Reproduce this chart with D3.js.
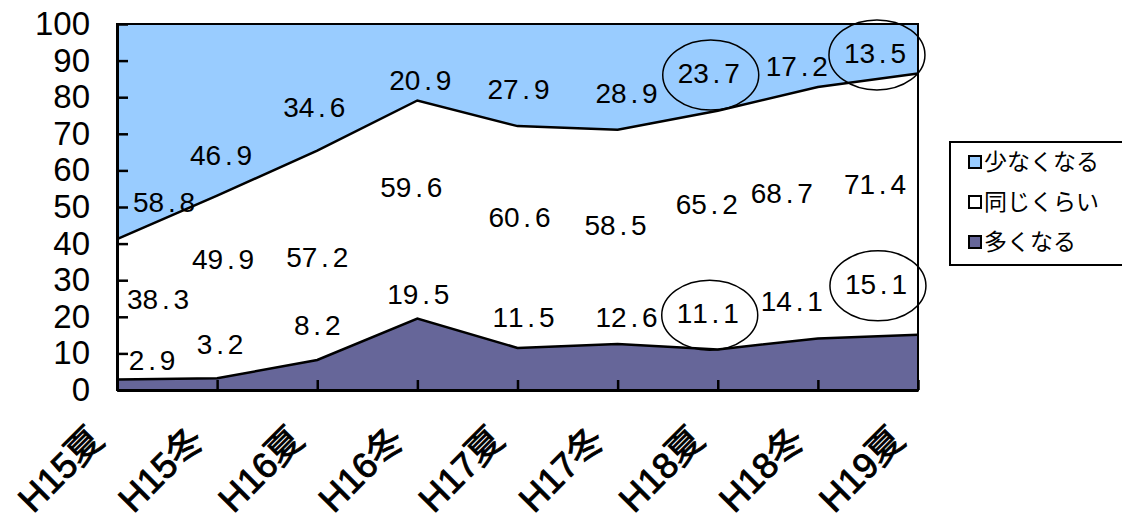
<!DOCTYPE html>
<html>
<head>
<meta charset="utf-8">
<script src="https://cdn.jsdelivr.net/npm/d3@7"></script>
<style>
body { margin: 0; background: #fff; }
</style>
</head>
<body>
<script>
// categories and values
var categories = ["H15夏", "H15冬", "H16夏", "H16冬", "H17夏", "H17冬", "H18夏", "H18冬", "H19夏"];
var seriesNames = ["多くなる", "同じくらい", "少なくなる"];
var more = [2.9, 3.2, 8.2, 19.5, 11.5, 12.6, 11.1, 14.1, 15.1];
var same = [38.3, 49.9, 57.2, 59.6, 60.6, 58.5, 65.2, 68.7, 71.4];
var less = [58.8, 46.9, 34.6, 20.9, 27.9, 28.9, 23.7, 17.2, 13.5];
var yTicks = [0, 10, 20, 30, 40, 50, 60, 70, 80, 90, 100];
var colors = ["#666699", "#ffffff", "#99ccff"];

// hand placed data labels (category index, value)
var moreLabelX = [0.35, 1.03, 2.0, 3.01, 4.06, 5.09, 5.9, 6.74, 7.58];
var moreLabelY = [8.2, 12.6, 17.8, 26.2, 19.9, 19.9, 21.0, 24.3, 29.0];
var sameLabelX = [0.41, 1.06, 2.0, 2.94, 4.02, 4.98, 5.89, 6.64, 7.57];
var sameLabelY = [24.9, 35.8, 36.3, 55.5, 47.3, 45.1, 50.8, 53.8, 56.3];
var lessLabelX = [0.47, 1.04, 1.97, 3.03, 4.01, 5.09, 5.91, 6.79, 7.57];
var lessLabelY = [51.4, 64.2, 77.3, 84.7, 82.2, 81.1, 86.6, 88.5, 92.1];
// circled labels: [series, category index]
var circled = [[2, 6], [2, 8], [0, 6], [0, 8]];

var width = 1122, height = 521;
var plotLeft = 117, plotRight = 918, plotTop = 24, plotBottom = 390;

var svg = d3.select("body").append("svg")
	.attr("width", width)
	.attr("height", height);

var x = d3.scalePoint().domain(categories).range([plotLeft, plotRight]);
var xi = d3.scaleLinear().domain([0, categories.length - 1]).range([plotLeft, plotRight]);
var y = d3.scaleLinear().domain([0, 100]).range([plotBottom, plotTop]);

var rows = categories.map(function(c, i) {
	return {cat: c, "多くなる": more[i], "同じくらい": same[i], "少なくなる": less[i]};
});
var stacked = d3.stack().keys(seriesNames)(rows);

var area = d3.area()
	.x(function(d) { return x(d.data.cat); })
	.y0(function(d) { return y(d[0]); })
	.y1(function(d) { return y(d[1]); });

svg.selectAll(".band")
	.data(stacked)
	.enter().append("path")
	.attr("class", "band")
	.attr("d", area)
	.attr("fill", function(d, i) { return colors[i]; });

// boundary lines between bands
var line = d3.line()
	.x(function(d) { return x(d.data.cat); })
	.y(function(d) { return y(d[1]); });

svg.selectAll(".edge")
	.data(stacked.slice(0, 2))
	.enter().append("path")
	.attr("class", "edge")
	.attr("d", line)
	.attr("fill", "none")
	.attr("stroke", "black")
	.attr("stroke-width", 2.5);

// plot frame
svg.append("rect")
	.attr("x", plotLeft)
	.attr("y", plotTop)
	.attr("width", plotRight - plotLeft)
	.attr("height", plotBottom - plotTop)
	.attr("fill", "none")
	.attr("stroke", "black")
	.attr("stroke-width", 2);

// y axis with inward ticks
var yAxis = svg.append("g")
	.attr("transform", "translate(" + plotLeft + ",0)")
	.call(d3.axisLeft(y).tickValues(yTicks).tickSizeInner(-11).tickSizeOuter(0).tickPadding(27));
yAxis.select(".domain").attr("stroke-width", 3);
yAxis.selectAll(".tick line").attr("stroke-width", 2.5);
yAxis.selectAll(".tick text")
	.attr("font-family", "'Liberation Sans', Arial, sans-serif")
	.attr("font-size", 33)
	.attr("fill", "black");

// x axis with inward ticks and rotated labels
var xAxis = svg.append("g")
	.attr("transform", "translate(0," + plotBottom + ")")
	.call(d3.axisBottom(x).tickSizeInner(-10).tickSizeOuter(0));
xAxis.select(".domain").attr("stroke-width", 3);
xAxis.selectAll(".tick line").attr("stroke-width", 2.5);
xAxis.selectAll(".tick text")
	.attr("font-family", "'Liberation Sans', 'Noto Sans CJK JP', sans-serif")
	.attr("font-size", 36)
	.attr("fill", "black")
	.attr("stroke", "black")
	.attr("stroke-width", 0.9)
	.attr("text-anchor", "end")
	.attr("dy", null)
	.attr("y", 0)
	.attr("transform", "translate(-12,52) rotate(-45)");

// data labels, each digit in its own fixed cell
var labelSets = [
	{values: more, lx: moreLabelX, ly: moreLabelY},
	{values: same, lx: sameLabelX, ly: sameLabelY},
	{values: less, lx: lessLabelX, ly: lessLabelY}
];
var cell = 15.5;

labelSets.forEach(function(set, s) {
	set.values.forEach(function(v, i) {
		var txt = v.toFixed(1).split("");
		var g = svg.append("g")
			.attr("transform", "translate(" + xi(set.lx[i]) + "," + y(set.ly[i]) + ")");
		g.selectAll("text")
			.data(txt)
			.enter().append("text")
			.attr("x", function(c, k) { return (k - (txt.length - 1) / 2) * cell; })
			.attr("y", 0)
			.attr("dy", "0.36em")
			.attr("text-anchor", "middle")
			.attr("font-family", "'Liberation Sans', Arial, sans-serif")
			.attr("font-size", 28)
			.attr("fill", "black")
			.text(function(c) { return c; });
	});
});

// ellipses round the highlighted labels
svg.selectAll(".ring")
	.data(circled)
	.enter().append("ellipse")
	.attr("class", "ring")
	.attr("cx", function(d) { return xi(labelSets[d[0]].lx[d[1]]) + 2; })
	.attr("cy", function(d) { return y(labelSets[d[0]].ly[d[1]]) + 2; })
	.attr("rx", 48)
	.attr("ry", 35)
	.attr("fill", "none")
	.attr("stroke", "black")
	.attr("stroke-width", 1.5);

// legend
var legend = svg.append("g").attr("transform", "translate(950,142)");
legend.append("rect")
	.attr("x", 0)
	.attr("y", 0)
	.attr("width", 180)
	.attr("height", 123)
	.attr("fill", "white")
	.attr("stroke", "black")
	.attr("stroke-width", 2);

var legendOrder = [2, 1, 0];
var item = legend.selectAll(".item")
	.data(legendOrder)
	.enter().append("g")
	.attr("class", "item")
	.attr("transform", function(d, i) { return "translate(0," + (20 + i * 40) + ")"; });

item.append("rect")
	.attr("x", 19)
	.attr("y", -6)
	.attr("width", 12)
	.attr("height", 12)
	.attr("fill", function(d) { return colors[d]; })
	.attr("stroke", "black")
	.attr("stroke-width", 2);

item.append("text")
	.attr("x", 34)
	.attr("y", 0)
	.attr("dy", "0.36em")
	.attr("font-family", "'Noto Sans CJK JP', sans-serif")
	.attr("font-size", 23)
	.attr("fill", "black")
	.text(function(d) { return seriesNames[d]; });
</script>
</body>
</html>
